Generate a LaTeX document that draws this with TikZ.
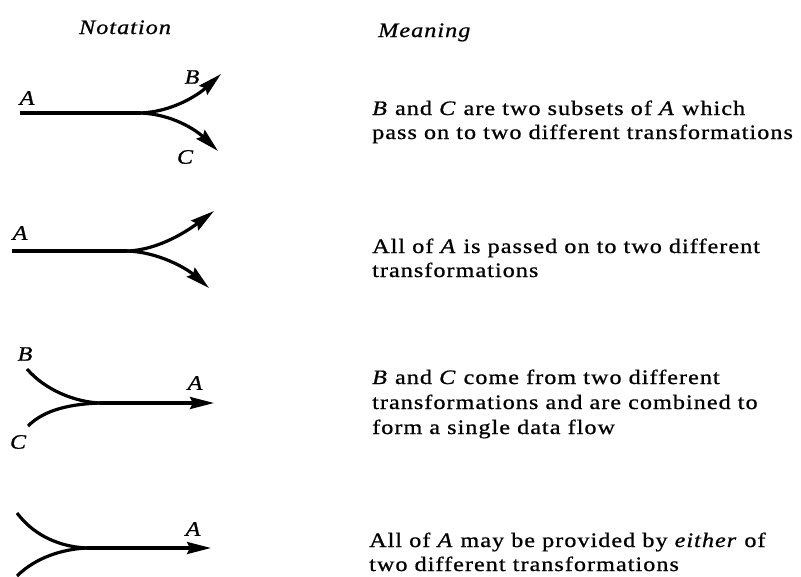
\documentclass[tikz,border=0pt]{standalone}
\usepackage{fontspec}
\setmainfont{Liberation Serif}[FakeStretch=1.18,LetterSpace=5,FakeBold=0.8]
\usetikzlibrary{arrows.meta}
\begin{document}
\begin{tikzpicture}[x=1pt,y=-1pt,
  plain/.style={line width=3.2pt},
  flow/.style={line width=3.2pt,-{Stealth[length=24pt,width=12pt,inset=3pt]}},
  lbl/.style={font=\fontsize{20.5}{24}\selectfont\itshape,inner sep=0pt},
  txt/.style={font=\fontsize{20.5}{24}\selectfont,anchor=base west,inner sep=0pt},
  hdr/.style={font=\fontsize{20.5}{24}\selectfont\itshape,inner sep=0pt}]
\useasboundingbox (0,0) rectangle (801,576);
% headings
\node[hdr,anchor=base] (hn) at (125,34) {Notation};
\node[hdr,anchor=base west] (hm) at (378,37) {Meaning};
% diagram 1
\coordinate (d1s) at (20,113);
\coordinate (d1j) at (140,113);
\coordinate (d1b) at (221,74);
\coordinate (d1c) at (218,151);
\draw[plain] (d1s) -- (d1j);
\draw[flow] (d1j) .. controls (172,112) and (198,95) .. (d1b);
\draw[flow] (d1j) .. controls (172,114) and (196,130) .. (d1c);
\node[lbl] (d1A) at (27,98) {A};
\node[lbl] (d1B) at (192,77) {B};
\node[lbl] (d1C) at (185,157) {C};
% diagram 2
\coordinate (d2s) at (12,251);
\coordinate (d2j) at (127,251);
\coordinate (d2u) at (214,211);
\coordinate (d2l) at (209,288);
\draw[plain] (d2s) -- (d2j);
\draw[flow] (d2j) .. controls (160,250) and (190,229) .. (d2u);
\draw[flow] (d2j) .. controls (158,252) and (186,268) .. (d2l);
\node[lbl] (d2A) at (20,233) {A};
% diagram 3
\coordinate (d3b) at (27,369);
\coordinate (d3c) at (28,426);
\coordinate (d3j) at (100,403);
\coordinate (d3t) at (214,403);
\draw[plain] (d3b) .. controls (45,390) and (75,402) .. (d3j);
\draw[plain] (d3c) .. controls (45,409) and (72,404) .. (d3j);
\draw[flow] (d3j) -- (d3t);
\node[lbl] (d3B) at (25,354) {B};
\node[lbl] (d3C) at (18,442) {C};
\node[lbl] (d3A) at (195,383) {A};
% diagram 4
\coordinate (d4u) at (17,513);
\coordinate (d4l) at (17,576);
\coordinate (d4j) at (87,548);
\coordinate (d4t) at (211,548);
\draw[plain] (d4u) .. controls (35,537) and (62,547) .. (d4j);
\draw[plain] (d4l) .. controls (35,558) and (62,549) .. (d4j);
\draw[flow] (d4j) -- (d4t);
\node[lbl] (d4A) at (193,529) {A};
% meanings
\node[txt] (m1a) at (372,115) {\textit{B} and \textit{C} are two subsets of \textit{A} which};
\node[txt] (m1b) at (372,139) {pass on to two different transformations};
\node[txt] (m2a) at (372,253) {All of \textit{A} is passed on to two different};
\node[txt] (m2b) at (372,277) {transformations};
\node[txt] (m3a) at (372,384) {\textit{B} and \textit{C} come from two different};
\node[txt] (m3b) at (372,409) {transformations and are combined to};
\node[txt] (m3c) at (372,434) {form a single data flow};
\node[txt] (m4a) at (369,547) {All of \textit{A} may be provided by \textit{either} of};
\node[txt] (m4b) at (369,571) {two different transformations};
\end{tikzpicture}
\end{document}
